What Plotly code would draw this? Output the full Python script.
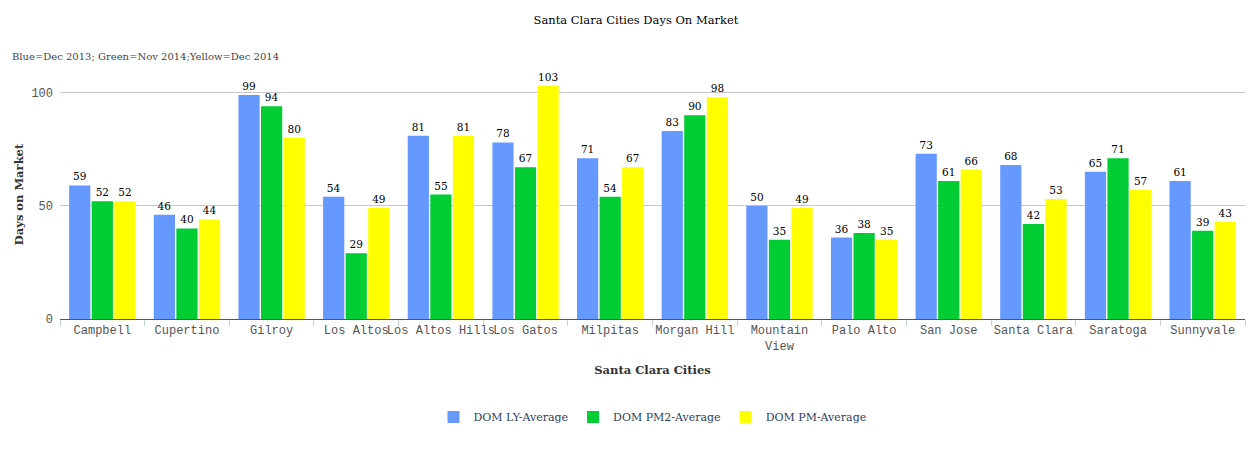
import plotly.graph_objects as go

cities = ['Campbell', 'Cupertino', 'Gilroy', 'Los Altos', 'Los Altos Hills', 'Los Gatos',
          'Milpitas', 'Morgan Hill', 'Mountain<br>View', 'Palo Alto', 'San Jose',
          'Santa Clara', 'Saratoga', 'Sunnyvale']
dom_ly = [59, 46, 99, 54, 81, 78, 71, 83, 50, 36, 73, 68, 65, 61]
dom_pm2 = [52, 40, 94, 29, 55, 67, 54, 90, 35, 38, 61, 42, 71, 39]
dom_pm = [52, 44, 80, 49, 81, 103, 67, 98, 49, 35, 66, 53, 57, 43]

serif = 'DejaVu Serif'
mono = 'Liberation Mono'

fig = go.Figure()
for name, vals, color in [('DOM LY-Average', dom_ly, '#6699ff'),
                          ('DOM PM2-Average', dom_pm2, '#00cc33'),
                          ('DOM PM-Average', dom_pm, '#ffff00')]:
    fig.add_trace(go.Bar(x=cities, y=vals, name=name, marker_color=color,
                         marker_line_width=0, text=vals, textposition='outside',
                         textfont=dict(family=serif, size=10.5, color='#000'),
                         cliponaxis=False))

# page adds an 8px offset, margins compensate for it
fig.update_layout(
    width=1256, height=450,
    margin=dict(l=52, r=19, t=62, b=139),
    plot_bgcolor='white', paper_bgcolor='white',
    barmode='group', bargap=0.2, bargroupgap=0.06,
    title=dict(text='Santa Clara Cities Days On Market', x=0.5, xanchor='center',
               y=0.973, yanchor='middle', font=dict(family=serif, size=11.5, color='#000')),
    font=dict(family=serif, size=12, color='#333'),
    legend=dict(orientation='h', x=0.5, xanchor='center', y=-0.394, yanchor='middle',
                font=dict(family=serif, size=11, color='#2a3f5f'),
                itemwidth=30, traceorder='normal'),
    annotations=[dict(text='Blue=Dec 2013; Green=Nov 2014;Yellow=Dec 2014',
                      xref='paper', yref='paper', x=-0.042, y=1.056,
                      xanchor='left', yanchor='middle', showarrow=False,
                      font=dict(family=serif, size=10, color='#444'))],
)
fig.update_xaxes(
    title=dict(text='<b>Santa Clara Cities</b>', font=dict(family=serif, size=11.5, color='#333'),
               standoff=12),
    tickfont=dict(family=mono, size=12, color='#555'),
    tickangle=0, automargin=False,
    showline=True, linecolor='#555', linewidth=1,
    ticks='outside', tickson='boundaries', tickcolor='#c0cfe0', ticklen=6,
    showgrid=False,
)
fig.update_yaxes(
    title=dict(text='<b>Days on Market</b>', font=dict(family=serif, size=11.5, color='#333'),
               standoff=5),
    tickfont=dict(family=mono, size=12, color='#555'),
    range=[0, 110], tickvals=[0, 50, 100], automargin=False,
    showgrid=True, gridcolor='#c8c8c8', zeroline=False,
    ticks='', ticklabelstandoff=6,
)

fig.write_html("out.html")
